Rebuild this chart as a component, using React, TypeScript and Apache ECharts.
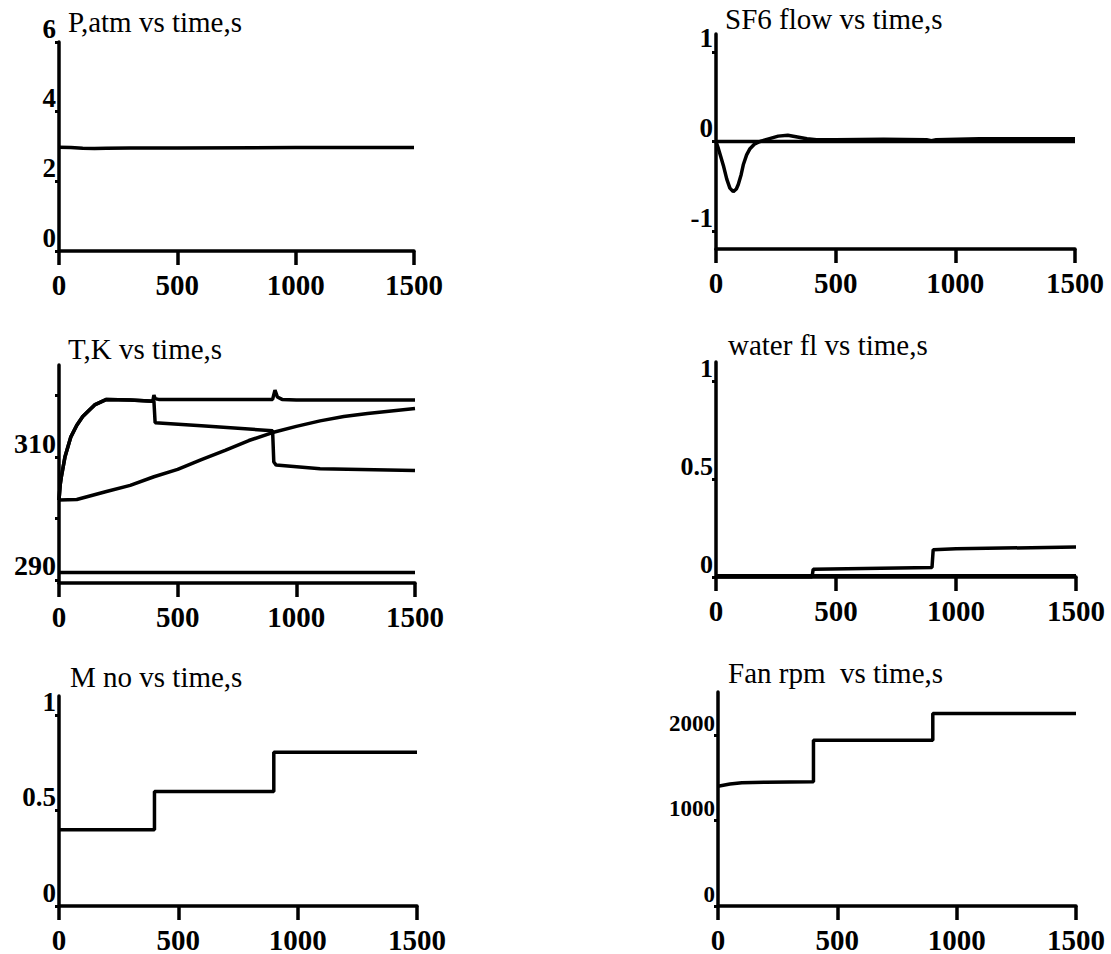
import React, { useEffect, useRef } from "react";
import * as echarts from "echarts";

// ---- data ----
const timeTicks = [0, 500, 1000, 1500];

const pTime = [0, 50, 100, 150, 200, 300, 500, 1000, 1500];
const pVals = [2.98, 2.97, 2.95, 2.94, 2.95, 2.96, 2.96, 2.97, 2.97];

const sf6Time = [0, 10, 20, 31, 45, 58, 72, 85, 93, 105, 114, 128, 142, 160, 184, 220, 260, 300, 340, 380, 420, 500, 700, 880, 900, 920, 1100, 1300, 1500];
const sf6Vals = [0, -0.08, -0.17, -0.27, -0.42, -0.52, -0.56, -0.53, -0.48, -0.37, -0.26, -0.15, -0.08, -0.03, 0, 0.03, 0.06, 0.07, 0.05, 0.03, 0.02, 0.02, 0.025, 0.02, 0.01, 0.02, 0.03, 0.03, 0.03];
const sf6RefTime = [0, 1500];
const sf6RefVals = [0, 0];

const tGasTime = [0, 5, 10, 25, 50, 75, 100, 150, 200, 300, 395, 400, 405, 420, 900, 910, 920, 940, 1000, 1500];
const tGasVals = [303, 305.5, 306.8, 310, 313.3, 315.2, 316.6, 318.5, 319.4, 319.3, 319.1, 320.1, 319.5, 319.4, 319.4, 320.9, 319.8, 319.4, 319.3, 319.3];
const tOutTime = [0, 5, 10, 25, 50, 75, 100, 150, 200, 300, 400, 405, 600, 900, 905, 915, 1100, 1500];
const tOutVals = [303, 305.5, 306.8, 310, 313.3, 315.2, 316.6, 318.5, 319.4, 319.3, 319.1, 315.6, 315.1, 314.3, 309.2, 308.7, 308.1, 307.8];
const tSlowTime = [0, 75, 200, 300, 400, 500, 600, 700, 800, 900, 1000, 1100, 1200, 1300, 1400, 1500];
const tSlowVals = [303, 303.1, 304.4, 305.4, 306.8, 308.0, 309.6, 311.1, 312.7, 314.0, 315.0, 315.9, 316.6, 317.1, 317.5, 317.9];
const tWaterTime = [0, 1500];
const tWaterVals = [291.2, 291.2];
const tTicks = [290, 300, 310, 320];
const tLabels = [290, 310];

const wfTime = [0, 400, 405, 900, 905, 1000, 1500];
const wfVals = [0, 0, 0.04, 0.049, 0.14, 0.145, 0.153];
const wf2Time = [0, 1500];
const wf2Vals = [0.007, 0.007];

const mTime = [0, 400, 400, 900, 900, 1500];
const mVals = [0.4, 0.4, 0.6, 0.6, 0.805, 0.805];

const fanTime = [0, 50, 100, 200, 400, 400, 900, 900, 1500];
const fanVals = [1400, 1425, 1440, 1447, 1452, 1935, 1935, 2250, 2250];

const titles = ["P,atm vs time,s", "SF6 flow vs time,s", "T,K vs time,s", "water fl vs time,s", "M no vs time,s", "Fan rpm  vs time,s"];

const FONT = "'Liberation Serif', 'Times New Roman', serif";

const zip = (t: number[], v: number[]) => t.map((x, i) => [x, v[i]]);

export default function App() {
  const ref = useRef<HTMLDivElement>(null);
  useEffect(() => {
    if (!ref.current) return;
    const chart = echarts.init(ref.current, null, { renderer: "svg" });

    const grids = [
      { left: 59, top: 42, width: 355, height: 209 },
      { left: 716, top: 34, width: 359, height: 215 },
      { left: 59, top: 365, width: 356, height: 218 },
      { left: 716, top: 362, width: 360, height: 215 },
      { left: 59, top: 696, width: 358, height: 211 },
      { left: 718, top: 692, width: 358, height: 215 },
    ];
    const titlePos = [
      [68, 7],
      [725, 4],
      [68, 334],
      [728, 330],
      [70, 662],
      [728, 658],
    ];
    const yCfg: any[] = [
      { min: 0, max: 6, ticks: [0, 2, 4, 6], labels: [0, 2, 4, 6], fs: 27 },
      { min: -1.2, max: 1.2, ticks: [-1, 0, 1], labels: [-1, 0, 1], fs: 27 },
      { min: 289.5, max: 325, ticks: tTicks, labels: tLabels, fs: 28 },
      { min: 0, max: 1.1, ticks: [0, 0.5, 1], labels: [0, 0.5, 1], fs: 26 },
      { min: 0, max: 1.1, ticks: [0, 0.5, 1], labels: [0, 0.5, 1], fs: 27 },
      { min: 0, max: 2500, ticks: [0, 1000, 2000], labels: [0, 1000, 2000], fs: 23 },
    ];
    const seriesData: number[][][][] = [
      [zip(pTime, pVals)],
      [zip(sf6RefTime, sf6RefVals), zip(sf6Time, sf6Vals)],
      [zip(tGasTime, tGasVals), zip(tOutTime, tOutVals), zip(tSlowTime, tSlowVals), zip(tWaterTime, tWaterVals)],
      [zip(wf2Time, wf2Vals), zip(wfTime, wfVals)],
      [zip(mTime, mVals)],
      [zip(fanTime, fanVals)],
    ];

    const axisLine = { show: true, onZero: false, lineStyle: { color: "#000", width: 3.5 } };
    const fmt = (v: number) => String(v);

    const option: any = {
      animation: false,
      backgroundColor: "#fff",
      title: titles.map((t, i) => ({
        text: t,
        left: titlePos[i][0],
        top: titlePos[i][1],
        padding: 0,
        textStyle: { fontFamily: FONT, fontSize: 29, fontWeight: "normal", color: "#000" },
      })),
      grid: grids.map((g) => ({ ...g, containLabel: false })),
      xAxis: grids.map((_, i) => ({
        type: "value",
        gridIndex: i,
        min: 0,
        max: 1500,
        interval: 500,
        axisLine,
        axisTick: { show: true, length: 14, lineStyle: { color: "#000", width: 3.5 } },
        axisLabel: {
          show: true,
          margin: 19,
          fontFamily: FONT,
          fontSize: 29,
          fontWeight: "bold",
          color: "#000",
          formatter: fmt,
          customValues: timeTicks,
          showMinLabel: true,
          showMaxLabel: true,
        },
        splitLine: { show: false },
      })),
      yAxis: yCfg.map((c, i) => ({
        type: "value",
        gridIndex: i,
        min: c.min,
        max: c.max,
        axisLine,
        axisTick: { show: true, length: 4, customValues: c.ticks, lineStyle: { color: "#000", width: 3 } },
        axisLabel: {
          show: true,
          margin: 3,
          fontFamily: FONT,
          fontSize: c.fs,
          fontWeight: "bold",
          color: "#000",
          verticalAlign: "bottom",
          formatter: fmt,
          customValues: c.labels,
          showMinLabel: true,
          showMaxLabel: true,
        },
        splitLine: { show: false },
      })),
      series: seriesData.flatMap((list, gi) =>
        list.map((d) => ({
          type: "line",
          xAxisIndex: gi,
          yAxisIndex: gi,
          data: d,
          showSymbol: false,
          symbol: "none",
          lineStyle: { color: "#000", width: 3.5 },
          z: 3,
        }))
      ),
    };
    chart.setOption(option);
    return () => chart.dispose();
  }, []);

  return (
    <div
      ref={ref}
      style={{ position: "absolute", left: 0, top: 0, width: 1111, height: 954, background: "#fff" }}
    />
  );
}
